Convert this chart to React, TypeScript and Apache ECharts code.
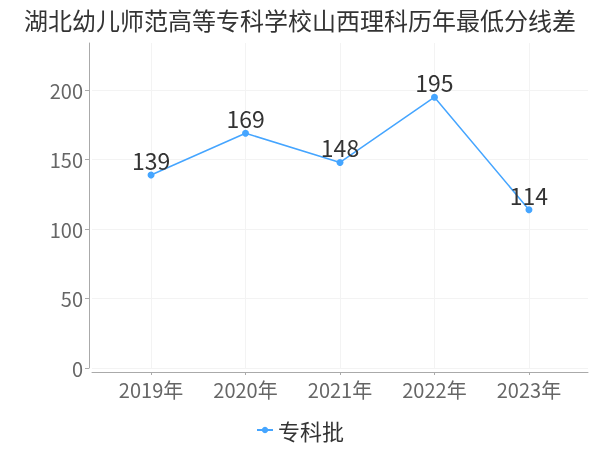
import React, { useEffect, useRef } from "react";
import * as echarts from "echarts";

const categories = ["2019年", "2020年", "2021年", "2022年", "2023年"];
const seriesName = "专科批";
const values = [139, 169, 148, 195, 114];
const yTicks = [0, 50, 100, 150, 200];

const FONT = '"Noto Sans CJK SC", "Noto Sans", sans-serif';

export default function App() {
  const ref = useRef<HTMLDivElement>(null);
  useEffect(() => {
    if (!ref.current) return;
    const chart = echarts.init(ref.current, undefined, { renderer: "svg" });
    const catIdx = categories.map((_, i) => i);
    chart.setOption({
      animation: false,
      textStyle: { fontFamily: FONT },
      title: {
        text: "湖北幼儿师范高等专科学校山西理科历年最低分线差",
        left: "center",
        top: 2,
        textStyle: { fontSize: 24, fontWeight: "normal", color: "#333", fontFamily: FONT },
      },
      legend: {
        bottom: 4,
        left: "center",
        data: [seriesName],
        itemWidth: 16,
        itemHeight: 8,
        itemGap: 6,
        textStyle: { fontSize: 22, color: "#333", fontFamily: FONT },
      },
      grid: { left: 92, right: 12, top: 43, bottom: 82, containLabel: false },
      xAxis: {
        type: "value",
        min: -0.625,
        max: categories.length - 1 + 0.625,
        offset: 4,
        axisLine: { show: true, onZero: false, lineStyle: { color: "#aaa" } },
        axisTick: { show: true, length: 3, customValues: catIdx, lineStyle: { color: "#aaa" } },
        splitLine: { show: true, lineStyle: { color: "#f3f3f3" } },
        axisLabel: {
          fontSize: 20,
          color: "#666",
          margin: 7,
          customValues: catIdx,
          formatter: (v: number) => (Number.isInteger(v) && categories[v] ? categories[v] : ""),
        },
      },
      yAxis: {
        type: "value",
        min: 0,
        max: (e: any) => e.max * 1.2,
        interval: 50,
        offset: 3,
        axisLine: { show: true, onZero: false, lineStyle: { color: "#aaa" } },
        axisTick: { show: true, length: 4, customValues: yTicks, lineStyle: { color: "#aaa" } },
        splitLine: { show: true, lineStyle: { color: "#f3f3f3" } },
        axisLabel: {
          fontSize: 20,
          color: "#666",
          margin: 6,
          customValues: yTicks,
          formatter: (v: number) => (yTicks.includes(v) ? String(v) : ""),
        },
      },
      series: [
        {
          name: seriesName,
          type: "line",
          data: values.map((v, i) => [i, v]),
          symbol: "circle",
          symbolSize: 7,
          itemStyle: { color: "#45a5ff" },
          lineStyle: { color: "#45a5ff", width: 1.5 },
          label: {
            show: true,
            position: "top",
            distance: 0,
            fontSize: 23,
            color: "#333",
            fontFamily: FONT,
          },
        },
      ],
    });
    return () => chart.dispose();
  }, []);
  return (
    <div
      ref={ref}
      style={{ position: "fixed", left: 0, top: 0, width: 600, height: 450 }}
    />
  );
}
